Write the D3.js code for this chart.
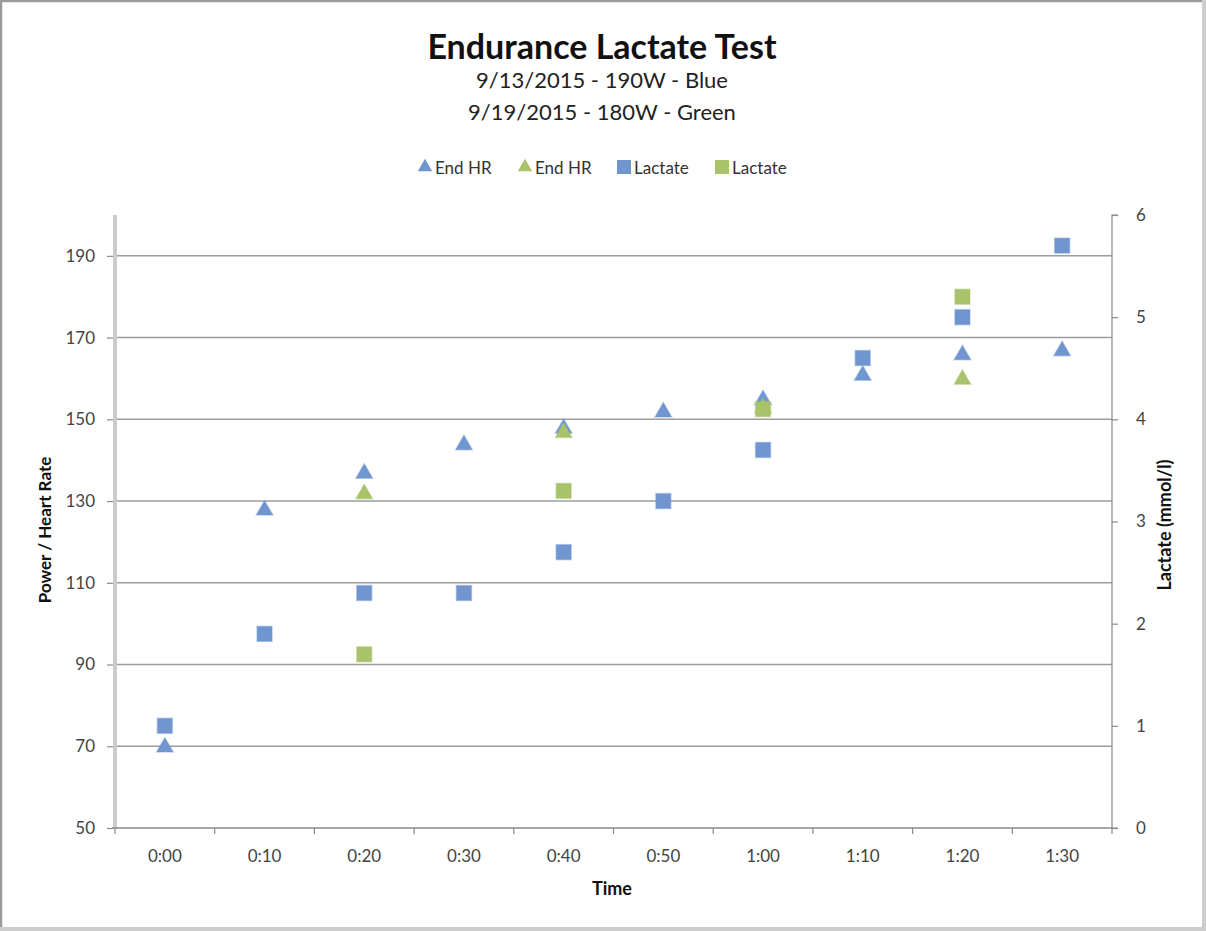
<!DOCTYPE html>
<html>
<head>
<meta charset="utf-8">
<script src="https://cdn.jsdelivr.net/npm/d3@7"></script>
<style>
html,body{margin:0;padding:0;background:#fff;}
svg{display:block;}
text{font-family:Lato,"Open Sans",sans-serif;}
</style>
</head>
<body>
<svg id="chart" width="1206" height="931"></svg>
<script>
const categories = ["0:00","0:10","0:20","0:30","0:40","0:50","1:00","1:10","1:20","1:30"];
const hrBlue = [70,128,137,144,148,152,155,161,166,167];
const hrGreen = [null,null,132,null,147,null,153,null,160,null];
const lacBlue = [1.0,1.9,2.3,2.3,2.7,3.2,3.7,4.6,5.0,5.7];
const lacGreen = [null,null,1.7,null,3.3,null,4.1,null,5.2,null];
const leftTicks = [50,70,90,110,130,150,170,190];
const rightTicks = [0,1,2,3,4,5,6];
const legendLabels = ["End HR","End HR","Lactate","Lactate"];

const BLUE = "#7095cf", GREEN = "#a8c36a";
const svg = d3.select("#chart");

// frame
svg.append("rect").attr("x",0).attr("y",0).attr("width",1206).attr("height",931).attr("fill","#fff");
svg.append("path").attr("d","M1,931 V1 H1206").attr("fill","none").attr("stroke","#9a9a9a").attr("stroke-width",2.5);
svg.append("path").attr("d","M1204,0 V929 H0").attr("fill","none").attr("stroke","#cdcdcd").attr("stroke-width",4);

const L = 115, R = 1112, T = 215, B = 828;
const x = d3.scaleBand().domain(categories).range([L,R]);
const yL = d3.scaleLinear().domain([50,200]).range([B,T]);
const yR = d3.scaleLinear().domain([0,6]).range([B,T]);

// title
svg.append("text").attr("x",602).attr("y",59).attr("text-anchor","middle")
  .attr("font-size",34).attr("font-weight","bold").attr("fill","#111").text("Endurance Lactate Test");
svg.append("text").attr("x",602).attr("y",88).attr("text-anchor","middle")
  .attr("font-size",22).attr("fill","#222").text("9/13/2015 - 190W - Blue");
svg.append("text").attr("x",602).attr("y",120).attr("text-anchor","middle")
  .attr("font-size",22).attr("fill","#222").text("9/19/2015 - 180W - Green");

// gridlines
svg.append("g").selectAll("line").data(leftTicks.filter(d=>d>50)).join("line")
  .attr("x1",L).attr("x2",R).attr("y1",d=>yL(d)).attr("y2",d=>yL(d))
  .attr("stroke","#9c9c9c").attr("stroke-width",1.5);

const tickFont = "Lato,'Open Sans',sans-serif";
// left axis
const gL = svg.append("g").attr("transform",`translate(${L},0)`)
  .call(d3.axisLeft(yL).tickValues(leftTicks).tickSize(8).tickPadding(12).tickFormat(d3.format("d")));
gL.select(".domain").remove();
gL.selectAll(".tick line").attr("stroke","#8a8a8a").attr("stroke-width",1.2);
gL.selectAll(".tick text").attr("font-size",17).attr("fill","#444").attr("font-family",tickFont);
svg.append("line").attr("x1",L).attr("x2",L).attr("y1",T).attr("y2",B+1)
  .attr("stroke","#cbcbcb").attr("stroke-width",4);

// right axis
const gR = svg.append("g").attr("transform",`translate(${R},0)`)
  .call(d3.axisRight(yR).tickValues(rightTicks).tickSize(6).tickPadding(18).tickFormat(d3.format("d")));
gR.select(".domain").attr("stroke","#8a8a8a").attr("stroke-width",1.2).attr("d",`M6,${T}H0V${B}H6`);
gR.selectAll(".tick line").attr("stroke","#8a8a8a").attr("stroke-width",1.2);
gR.selectAll(".tick text").attr("font-size",17).attr("fill","#444").attr("font-family",tickFont);

// bottom axis
const gB = svg.append("g").attr("transform",`translate(0,${B})`)
  .call(d3.axisBottom(x).tickSize(0).tickPadding(22));
gB.select(".domain").attr("stroke","#8a8a8a").attr("stroke-width",1.5).attr("d",`M${L-3},0H${R}`);
gB.selectAll(".tick text").attr("font-size",17).attr("fill","#444").attr("font-family",tickFont);
const bounds = categories.map(c=>x(c)).concat([R]);
svg.append("g").selectAll("line").data(bounds).join("line")
  .attr("x1",d=>d).attr("x2",d=>d).attr("y1",B).attr("y2",B+6)
  .attr("stroke","#8a8a8a").attr("stroke-width",1.2);

// axis titles
svg.append("text").attr("transform","translate(51,530) rotate(-90)").attr("text-anchor","middle")
  .attr("font-size",17).attr("font-weight","bold").attr("fill","#111").text("Power / Heart Rate");
svg.append("text").attr("transform","translate(1171,525) rotate(-90)").attr("text-anchor","middle")
  .attr("font-size",18).attr("font-weight","bold").attr("fill","#111").text("Lactate (mmol/l)");
svg.append("text").attr("x",612).attr("y",895).attr("text-anchor","middle")
  .attr("font-size",18).attr("font-weight","bold").attr("fill","#111").text("Time");

// markers
const tri = d3.symbol().type(d3.symbolTriangle).size(120);
const cx = c => x(c) + x.bandwidth()/2;
function drawTri(vals,color){
  svg.append("g").selectAll("path").data(categories.map((c,i)=>({c,v:vals[i]})).filter(d=>d.v!=null)).join("path")
    .attr("d",tri).attr("transform",d=>`translate(${cx(d.c)},${yL(d.v)+1})`)
    .attr("fill",color).attr("stroke",color).attr("stroke-opacity",0.4).attr("stroke-width",1.5);
}
function drawSq(vals,color){
  const s = 15;
  svg.append("g").selectAll("rect").data(categories.map((c,i)=>({c,v:vals[i]})).filter(d=>d.v!=null)).join("rect")
    .attr("x",d=>cx(d.c)-s/2).attr("y",d=>yR(d.v)-s/2).attr("width",s).attr("height",s)
    .attr("fill",color).attr("stroke",color).attr("stroke-opacity",0.4).attr("stroke-width",1.5);
}
drawTri(hrBlue,BLUE);
drawTri(hrGreen,GREEN);
drawSq(lacBlue,BLUE);
drawSq(lacGreen,GREEN);

// legend
const legX = [425,525,624,722];
const legColors = [BLUE,GREEN,BLUE,GREEN];
const leg = svg.append("g");
legendLabels.forEach((lab,i)=>{
  if(i<2){
    leg.append("path").attr("d",d3.symbol().type(d3.symbolTriangle).size(90)())
      .attr("transform",`translate(${legX[i]},${167})`).attr("fill",legColors[i]);
  } else {
    leg.append("rect").attr("x",legX[i]-7).attr("y",160).attr("width",14).attr("height",14).attr("fill",legColors[i]);
  }
  leg.append("text").attr("x",legX[i]+10).attr("y",174).attr("font-size",17).attr("fill","#333").text(lab);
});
</script>
</body>
</html>
